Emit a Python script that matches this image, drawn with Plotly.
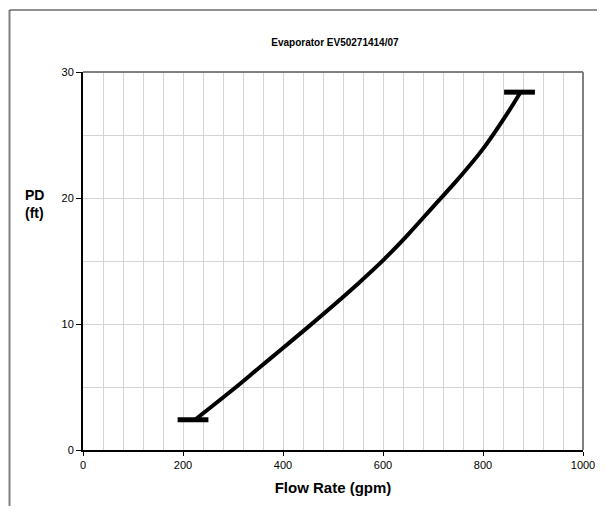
import plotly.graph_objects as go

# pressure drop curve
flow_gpm = [224, 300, 350, 400, 450, 500, 550, 600, 650, 700, 750, 800, 850, 875]
pd_ft = [2.4, 4.8, 6.45, 8.1, 9.75, 11.45, 13.2, 15.05, 17.1, 19.3, 21.5, 23.9, 26.8, 28.4]

# end caps of the curve
cap_flow = [220, 873]
cap_pd = [2.4, 28.4]

font = "Liberation Sans, Arial"

fig = go.Figure()

fig.add_trace(go.Scatter(
    x=flow_gpm, y=pd_ft, mode="lines",
    line=dict(color="black", width=4, shape="spline", smoothing=1.0),
    showlegend=False, hoverinfo="skip"))

fig.add_trace(go.Scatter(
    x=cap_flow, y=cap_pd, mode="markers",
    marker=dict(symbol="line-ew", size=22, line=dict(color="black", width=5)),
    showlegend=False, hoverinfo="skip"))

# gray frame on top / right of plot area
fig.add_shape(type="line", xref="paper", yref="paper", x0=0, x1=1, y0=1, y1=1,
              line=dict(color="#808080", width=2))
fig.add_shape(type="line", xref="paper", yref="paper", x0=1, x1=1, y0=0, y1=1,
              line=dict(color="#808080", width=2))
# outer chart border (only left and top edges are in view)
fig.add_shape(type="line", xref="paper", yref="paper", x0=-0.147, x1=-0.147, y0=-0.3, y1=1.164,
              line=dict(color="#808080", width=2))
fig.add_shape(type="line", xref="paper", yref="paper", x0=-0.147, x1=1.2, y0=1.164, y1=1.164,
              line=dict(color="#222222", width=1.2))

fig.update_xaxes(
    range=[0, 1000], dtick=200, tick0=0, automargin=False,
    showgrid=True, gridcolor="#d4d4d4", gridwidth=1,
    minor=dict(dtick=40, showgrid=True, gridcolor="#d4d4d4", gridwidth=1),
    showline=True, linecolor="black", linewidth=2,
    ticks="outside", ticklen=4, tickcolor="black",
    tickfont=dict(family=font, size=11, color="black"),
    zeroline=False,
    title=dict(text="<b>Flow Rate (gpm)</b>", font=dict(family=font, size=15, color="black"),
               standoff=12))
fig.update_yaxes(
    range=[0, 30], dtick=10, tick0=0, automargin=False,
    showgrid=True, gridcolor="#d4d4d4", gridwidth=1,
    minor=dict(dtick=5, showgrid=True, gridcolor="#d4d4d4", gridwidth=1),
    showline=True, linecolor="black", linewidth=2,
    ticks="outside", ticklen=5, tickcolor="black",
    tickfont=dict(family=font, size=11, color="black"),
    zeroline=False)

fig.add_annotation(text="<b>PD<br>(ft)</b>", xref="paper", yref="paper",
                   x=-0.12, y=0.65, xanchor="left", yanchor="middle", align="left",
                   showarrow=False, font=dict(family=font, size=14, color="black"))

# page body adds 8px on each side, so the figure is shrunk to fit without scrollbars
fig.update_layout(
    width=589, height=498,
    margin=dict(l=75, r=14, t=64, b=56),
    paper_bgcolor="white", plot_bgcolor="white",
    title=dict(text="<b>Evaporator EV50271414/07</b>", x=0.555, xanchor="center", y=0.930, yanchor="middle",
               font=dict(family=font, size=10, color="black")),
)

fig.write_html("out.html")
